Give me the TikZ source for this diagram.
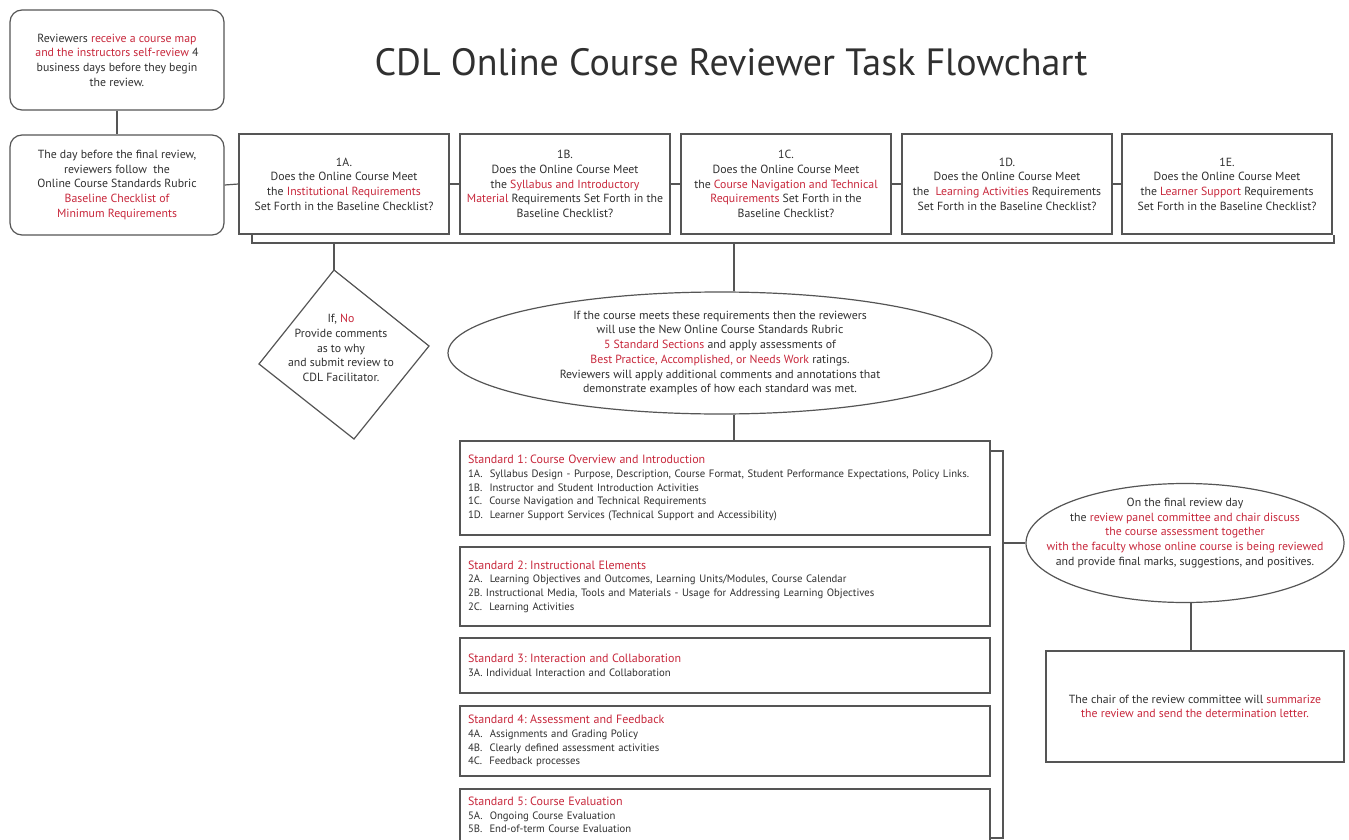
\documentclass[tikz,border=0pt]{standalone}
\usepackage{fontspec}
\setmainfont{PT Sans}
\usetikzlibrary{shapes.geometric}
\definecolor{cdlred}{RGB}{200,40,60}
\definecolor{cdltext}{RGB}{48,48,48}
\definecolor{cdlline}{RGB}{85,85,85}
\newcommand\rd[1]{\textcolor{cdlred}{#1}}
\frenchspacing
\tikzset{
  conn/.style={draw=cdlline, line width=1.2pt},
  rbox/.style={draw=cdlline, line width=1.2pt, rounded corners=12pt, minimum width=214pt, minimum height=100pt, align=center, text=cdltext, font=\fontsize{11.8}{14.7}\selectfont, inner sep=0pt},
  qbox/.style={draw=cdlline, line width=1.2pt, minimum width=210pt, minimum height=100pt, align=center, text=cdltext, font=\fontsize{11.8}{14.7}\selectfont, inner sep=0pt},
  sbox/.style={draw=cdlline, line width=1.2pt, minimum width=530pt, text width=514pt, inner xsep=8pt, inner ysep=0pt, align=left, text=cdltext, font=\fontsize{10.7}{13.7}\selectfont},
  txt/.style={align=center, text=cdltext, font=\fontsize{11.8}{14.7}\selectfont, inner sep=0pt}
}
\newcommand\stt[1]{\rd{\fontsize{12}{13.7}\selectfont #1}}
\begin{document}
\begin{tikzpicture}[x=1pt,y=-1pt]
\useasboundingbox (0,0) rectangle (1349,840);
\fill[white] (0,0) rectangle (1349,840);

\node[text=cdltext, font=\fontsize{38}{40}\selectfont, inner sep=0pt] (title) at (731,62) {CDL Online Course Reviewer Task Flowchart};

\node[rbox] (r1) at (117,60) {Reviewers \rd{receive a course map}\\ \rd{and the instructors self-review} 4\\ business days before they begin\\ the review.};
\node[rbox] (r2) at (117,185) {The day before the final review,\\ reviewers follow\ \ the\\ Online Course Standards Rubric\\ \rd{Baseline Checklist of}\\ \rd{Minimum Requirements}};

\node[qbox] (q1) at (344,184) {1A.\\ Does the Online Course Meet\\ the \rd{Institutional Requirements}\\ Set Forth in the Baseline Checklist?};
\node[qbox] (q2) at (565,184) {1B.\\ Does the Online Course Meet\\ the \rd{Syllabus and Introductory}\\ \rd{Material} Requirements Set Forth in the\\ Baseline Checklist?};
\node[qbox] (q3) at (786,184) {1C.\\ Does the Online Course Meet\\ the \rd{Course Navigation and Technical}\\ \rd{Requirements} Set Forth in the\\ Baseline Checklist?};
\node[qbox] (q4) at (1007,184) {1D.\\ Does the Online Course Meet\\ the\ \ \rd{Learning Activities} Requirements\\ Set Forth in the Baseline Checklist?};
\node[qbox] (q5) at (1227,184) {1E.\\ Does the Online Course Meet\\ the \rd{Learner Support} Requirements\\ Set Forth in the Baseline Checklist?};

\draw[conn] (r1.south) -- (r2.north);
\draw[conn] (r2.east) -- (q1.west);
\draw[conn] (q1.east) -- (q2.west);
\draw[conn] (q2.east) -- (q3.west);
\draw[conn] (q3.east) -- (q4.west);
\draw[conn] (q4.east) -- (q5.west);

% bracket under the checklist boxes
\coordinate (bl) at (252,243);
\coordinate (br) at (1334,243);
\draw[conn] (q1.south -| bl) -- (bl) -- (br) -- (q5.south -| br);

% diamond
\coordinate (dT) at (334,270);
\coordinate (dR) at (429,346);
\coordinate (dB) at (354,439);
\coordinate (dL) at (259,364);
\draw[conn, line join=miter] (dT) -- (dR) -- (dB) -- (dL) -- cycle;
\node[txt] (dtext) at (341,348) {If, \rd{No}\\ Provide comments\\ as to why\\ and submit review to\\ CDL Facilitator.};
\coordinate (c0) at (334,243);
\draw[conn] (c0) -- (dT);

% ellipse 1
\node[draw=cdlline, line width=1.2pt, ellipse, minimum width=544pt, minimum height=122pt, inner sep=0pt, align=center, text=cdltext, font=\fontsize{11.8}{14.7}\selectfont] (e1) at (720,353) {If the course meets these requirements then the reviewers\\ will use the New Online Course Standards Rubric\\ \rd{5 Standard Sections} and apply assessments of\\ \rd{Best Practice, Accomplished, or Needs Work} ratings.\\ Reviewers will apply additional comments and annotations that\\ demonstrate examples of how each standard was met.};
\coordinate (c1) at (734,243);
\draw[conn] (c1) -- (c1 |- e1.north);

% standards
\node[sbox, minimum height=94pt] (s1) at (725,488) {\stt{Standard 1: Course Overview and Introduction}\\ 1A.\ \ Syllabus Design - Purpose, Description, Course Format, Student Performance Expectations, Policy Links.\\ 1B.\ \ Instructor and Student Introduction Activities\\ 1C.\ \ Course Navigation and Technical Requirements\\ 1D.\ \ Learner Support Services (Technical Support and Accessibility)};
\node[sbox, minimum height=79pt] (s2) at (725,586.5) {\stt{Standard 2: Instructional Elements}\\ 2A.\ \ Learning Objectives and Outcomes, Learning Units/Modules, Course Calendar\\ 2B. Instructional Media, Tools and Materials - Usage for Addressing Learning Objectives\\ 2C.\ \ Learning Activities};
\node[sbox, minimum height=55pt] (s3) at (725,665.5) {\stt{Standard 3: Interaction and Collaboration}\\ 3A. Individual Interaction and Collaboration};
\node[sbox, minimum height=70pt] (s4) at (725,741) {\stt{Standard 4: Assessment and Feedback}\\ 4A.\ \ Assignments and Grading Policy\\ 4B.\ \ Clearly defined assessment activities\\ 4C.\ \ Feedback processes};
\node[sbox, minimum height=52pt] (s5) at (725,815) {\stt{Standard 5: Course Evaluation}\\ 5A.\ \ Ongoing Course Evaluation\\ 5B.\ \ End-of-term Course Evaluation};

\draw[conn] (e1.south -| c1) -- (s1.north -| c1);

% right bracket
\coordinate (rb1) at (1003,451);
\coordinate (rb2) at (1003,838);
\draw[conn] (s1.east |- rb1) -- (rb1) -- (rb2) -- (s5.east |- rb2);

% ellipse 2
\node[draw=cdlline, line width=1.2pt, ellipse, minimum width=318pt, minimum height=119pt, inner sep=0pt] (e2) at (1185,543) {};
\node[txt] (e2text) at (1185,533) {On the final review day\\ the \rd{review panel committee and chair discuss}\\ \rd{the course assessment together}\\ \rd{with the faculty whose online course is being reviewed}\\ and provide final marks, suggestions, and positives.};
\draw[conn] (rb1 |- e2.west) -- (e2.west);

% final box
\node[qbox, minimum width=298pt, minimum height=111pt] (fin) at (1195,706.5) {The chair of the review committee will \rd{summarize}\\ \rd{the review and send the determination letter.}};
\coordinate (c3) at (1191,600);
\draw[conn] (e2.south -| c3) -- (fin.north -| c3);
\end{tikzpicture}
\end{document}
